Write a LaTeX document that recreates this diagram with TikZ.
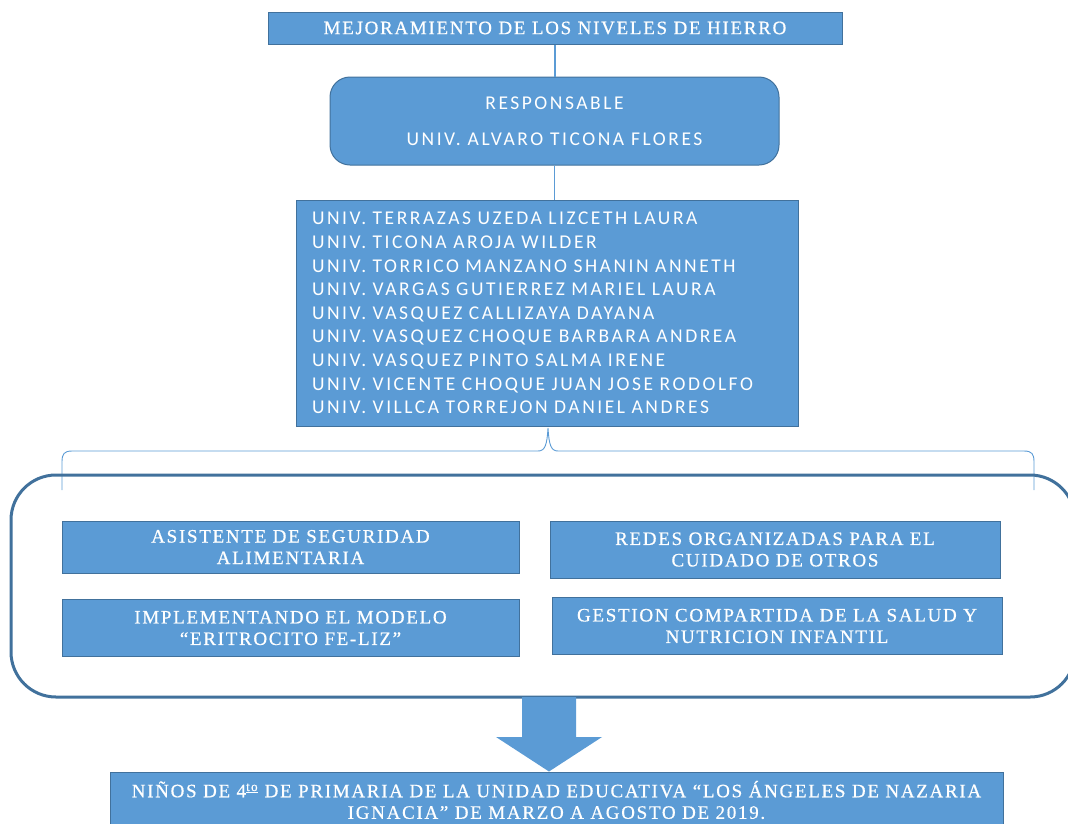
\documentclass[tikz,border=0pt]{standalone}
\usepackage{fontspec}
\setmainfont{Liberation Serif}
\newfontfamily\serx[LetterSpace=9,FakeBold=0.6]{Liberation Serif}
\newfontfamily\sanx[LetterSpace=13]{Carlito}
\definecolor{boxblue}{HTML}{5B9BD5}
\definecolor{edgeblue}{HTML}{41719C}
\begin{document}
\begin{tikzpicture}[x=1pt,y=-1pt,
  bluebox/.style={draw=edgeblue, line width=1pt, fill=boxblue, text=white, inner sep=0pt, align=center},
  sertxt/.style={font=\serx\fontsize{19}{21.5}\selectfont},
  link/.style={draw=boxblue, line width=1.3pt}]
\useasboundingbox (0,0) rectangle (1068,823);
\clip (0,0) rectangle (1068,823);
% top
\node[bluebox, sertxt, minimum width=574pt, minimum height=32pt] (top) at (555,28) {MEJORAMIENTO DE LOS NIVELES DE HIERRO};
\node[bluebox, rounded corners=20pt, minimum width=449pt, minimum height=88pt, font=\sanx\fontsize{19.5}{36}\selectfont] (resp) at (554.5,121) {RESPONSABLE\\UNIV. ALVARO TICONA FLORES};
\node[bluebox, minimum width=502pt, minimum height=226pt, text width=470pt, align=left, font=\sanx\fontsize{19.5}{23.6}\selectfont] (names) at (547,313) {UNIV. TERRAZAS UZEDA LIZCETH LAURA\\
UNIV. TICONA AROJA WILDER\\
UNIV. TORRICO MANZANO SHANIN ANNETH\\
UNIV. VARGAS GUTIERREZ MARIEL LAURA\\
UNIV. VASQUEZ CALLIZAYA DAYANA\\
UNIV. VASQUEZ CHOQUE BARBARA ANDREA\\
UNIV. VASQUEZ PINTO SALMA IRENE\\
UNIV. VICENTE CHOQUE JUAN JOSE RODOLFO\\
UNIV. VILLCA TORREJON DANIEL ANDRES};
\draw[link] (top.south) -- (top.south |- resp.north);
\draw[link] (names.north -| resp.south) -- (resp.south);
% brace
\coordinate (bl) at (62,490);
\coordinate (br) at (1034,490);
\coordinate (btip) at (548,428);
\draw[boxblue, line width=0.9pt] (bl) -- (62,462) .. controls (62,454) and (64,451) .. (72,451) -- (538,451) .. controls (545,451) and (547,445) .. (btip)
  .. controls (549,445) and (551,451) .. (558,451) -- (1024,451) .. controls (1032,451) and (1034,454) .. (1034,462) -- (br);
% frame
\node[draw=edgeblue, line width=3pt, rounded corners=45pt, minimum width=1064pt, minimum height=222pt, inner sep=0pt] (frame) at (543,586) {};
% inner boxes
\node[bluebox, sertxt, minimum width=457pt, minimum height=52pt] (a) at (290.5,547) {ASISTENTE DE SEGURIDAD\\ALIMENTARIA};
\node[bluebox, sertxt, minimum width=450pt, minimum height=57pt] (b) at (775,549.5) {REDES ORGANIZADAS PARA EL\\CUIDADO DE OTROS};
\node[bluebox, sertxt, minimum width=457pt, minimum height=57pt] (c) at (290.5,628) {IMPLEMENTANDO EL MODELO\\“ERITROCITO FE-LIZ”};
\node[bluebox, sertxt, minimum width=450pt, minimum height=57pt] (d) at (777,626) {GESTION COMPARTIDA DE LA SALUD Y\\NUTRICION INFANTIL};
% bottom
\node[bluebox, sertxt, minimum width=893pt, minimum height=56pt] (bot) at (556.5,800) {NIÑOS DE 4\textsuperscript{\underline{to}} DE PRIMARIA DE LA UNIDAD EDUCATIVA “LOS ÁNGELES DE NAZARIA\\IGNACIA” DE MARZO A AGOSTO DE 2019.};
% arrow
\coordinate (as) at (549,697);
\fill[boxblue] (522,697) -- (576,697) -- (576,737) -- (602,737) -- (bot.north -| as) -- (496,737) -- (522,737) -- cycle;
\end{tikzpicture}
\end{document}
